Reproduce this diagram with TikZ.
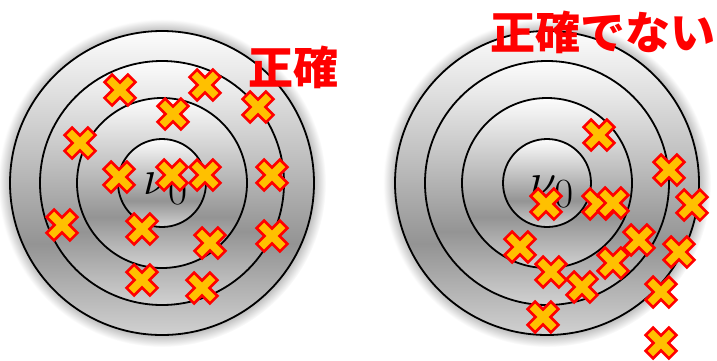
\documentclass[tikz,border=0pt]{standalone}
\usepackage{fontspec}
\newfontfamily\cjk{Noto Sans CJK JP}
\definecolor{xfill}{RGB}{255,192,0}
\definecolor{xred}{RGB}{255,0,0}
\definecolor{shBot}{gray}{0.82}
\definecolor{shMid}{gray}{0.58}
\definecolor{shUp}{gray}{0.76}
\definecolor{shTop}{gray}{0.99}
\definecolor{glowc}{gray}{0.72}
\pgfdeclareverticalshading{tgtshade}{100bp}{color(0bp)=(shBot); color(25bp)=(shBot); color(40bp)=(shMid); color(55bp)=(shUp); color(75bp)=(shTop); color(100bp)=(shTop)}
\pgfdeclareradialshading{tgtglow}{\pgfpoint{0bp}{0bp}}{color(0bp)=(glowc); color(23bp)=(glowc); color(25bp)=(white); color(50bp)=(white)}
\tikzset{
  ring/.style={shading=tgtshade, draw=black, line width=1.8pt},
  xmk/.style={fill=xfill, draw=xred, line width=2.6pt, line join=miter, miter limit=10},
  pics/xm/.style={code={\path[xmk, rotate=45] (5.3,5.3) -- (5.3,16.5) -- (-5.3,16.5) -- (-5.3,5.3) -- (-16.5,5.3) -- (-16.5,-5.3) -- (-5.3,-5.3) -- (-5.3,-16.5) -- (5.3,-16.5) -- (5.3,-5.3) -- (16.5,-5.3) -- (16.5,5.3) -- cycle;}},
  nulab/.style={scale=2.0, font=\Huge},
  redlab/.style={text=xred, font=\cjk\bfseries\fontsize{45}{45}\selectfont, inner sep=0pt}
}
\begin{document}
\begin{tikzpicture}[x=1pt, y=-1pt]
\useasboundingbox (0,0) rectangle (717,360);
% targets
\foreach \cx in {162,547}{
  \shade[shading=tgtglow] (\cx,183) circle (164pt);
  \path[ring] (\cx,183) circle (152pt);
  \path[ring] (\cx,183) circle (122pt);
  \path[ring] (\cx,183) circle (85pt);
  \path[ring] (\cx,183) circle (44pt);
}
\node[nulab] (nuL) at (166,189) {$\nu_0$};
\node[nulab] (nuR) at (552,192) {$\nu_0$};
% marks
\foreach \p in {(120,90),(205,85),(173,114),(258,107),(80,143),(119,177),(172,175),(205,175),(272,175),(62,225),(142,229),(210,243),(272,236),(142,280),(202,288)}{
  \pic at \p {xm};
}
\foreach \p in {(599,135),(669,170),(546,204),(598,204),(613,203),(692,205),(639,240),(520,247),(679,252),(613,263),(551,272),(582,287),(661,292),(543,317),(661,343)}{
  \pic at \p {xm};
}
\node[redlab] (accL) at (293,67) {正確};
\node[redlab] (accR) at (603,32) {正確でない};
\end{tikzpicture}
\end{document}
